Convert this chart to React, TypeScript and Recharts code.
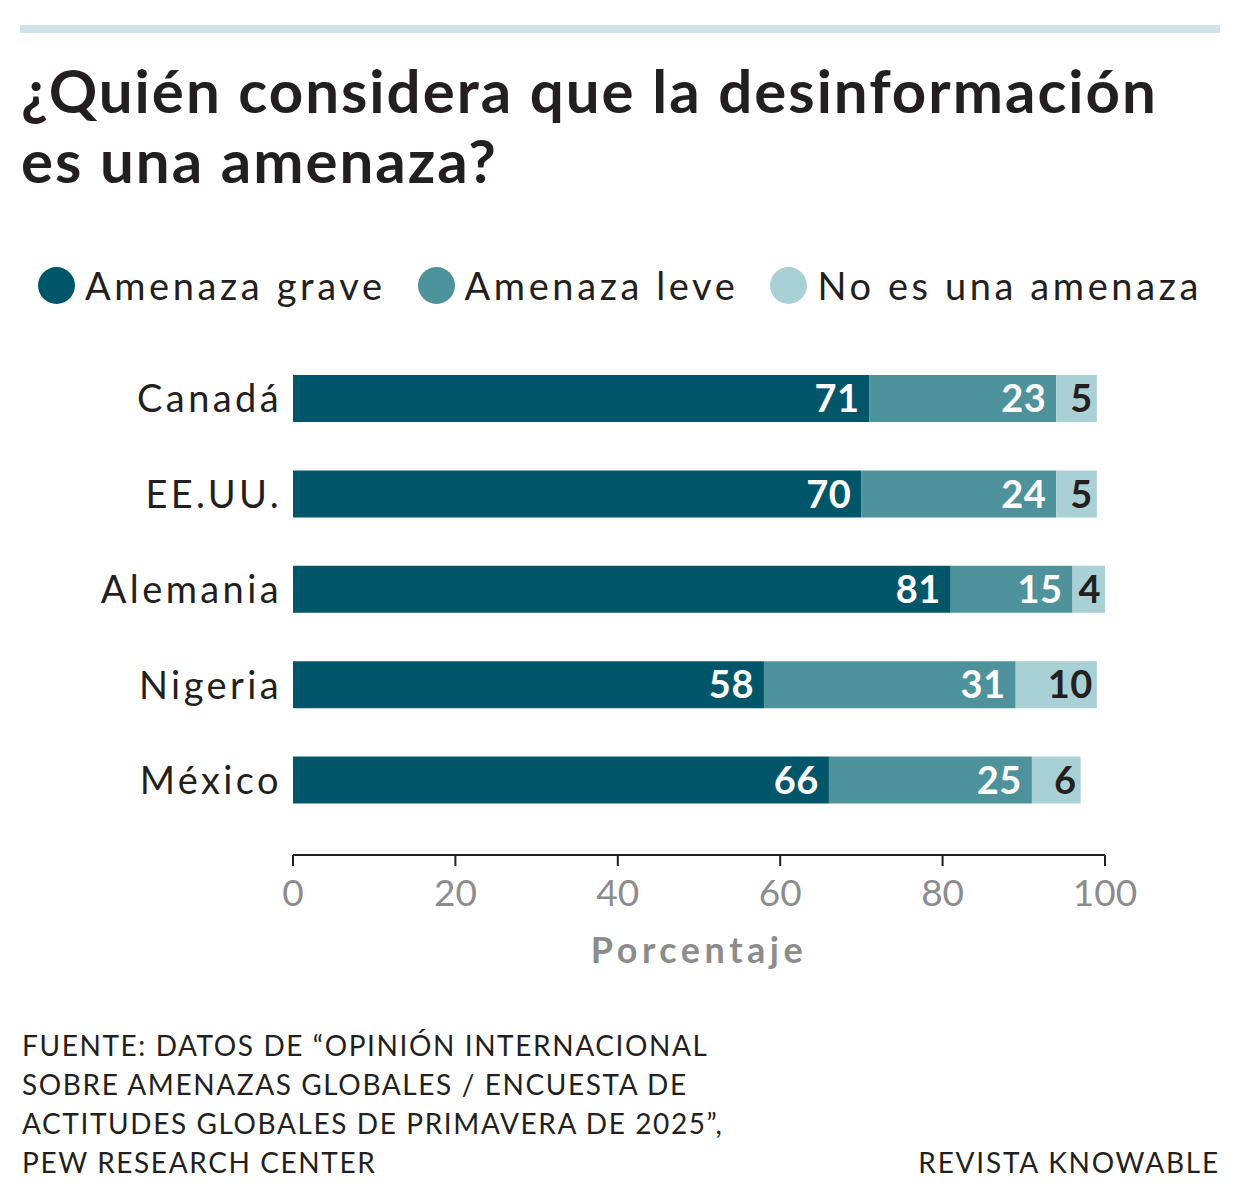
import React from 'react';
import { BarChart, Bar, XAxis, YAxis, LabelList } from 'recharts';

// Survey results: share of respondents per country (percent)
const countries = ['Canadá', 'EE.UU.', 'Alemania', 'Nigeria', 'México'];
const graveValues = [71, 70, 81, 58, 66];
const leveValues = [23, 24, 15, 31, 25];
const noValues = [5, 5, 4, 10, 6];
const xTicks = [0, 20, 40, 60, 80, 100];

const seriesNames = ['Amenaza grave', 'Amenaza leve', 'No es una amenaza'];
const seriesColors = ['#02566a', '#4e929c', '#a9d1d5'];

const data = countries.map((name, i) => ({
  name,
  grave: graveValues[i],
  leve: leveValues[i],
  no: noValues[i],
}));

const FONT = 'Lato, "Open Sans", sans-serif';
const INK = '#231f20';
const GREY = '#8c8c8c';

// Value label drawn right-aligned inside the end of each segment
const makeLabel = (color: string, inset: number) => (props: any) => {
  const { x, y, width, height, value } = props;
  return (
    <text
      x={Number(x) + Number(width) - inset}
      y={Number(y) + Number(height) / 2}
      dy="0.36em"
      textAnchor="end"
      fill={color}
      fontFamily={FONT}
      fontWeight={700}
      fontSize={38}
      letterSpacing={0.5}
    >
      {value}
    </text>
  );
};

// Country name right-aligned to the left of the plot
const CountryTick = (props: any) => {
  const { x, y, payload } = props;
  return (
    <text
      x={Number(x) + 3}
      y={y}
      dy="0.36em"
      textAnchor="end"
      fill={INK}
      fontFamily={FONT}
      fontSize={38}
      letterSpacing={3.4}
    >
      {payload.value}
    </text>
  );
};

export default function App() {
  return (
    <div
      style={{
        position: 'absolute',
        left: 0,
        top: 0,
        width: 1240,
        height: 1194,
        background: '#ffffff',
        fontFamily: FONT,
        color: INK,
        overflow: 'hidden',
      }}
    >
      <div style={{ position: 'absolute', left: 20, top: 25, width: 1200, height: 8, background: '#cfe4e6' }} />
      <div
        style={{
          position: 'absolute',
          left: 21,
          top: 55,
          fontSize: 60,
          fontWeight: 700,
          lineHeight: '70px',
          letterSpacing: 2.0,
          whiteSpace: 'nowrap',
        }}
      >
        ¿Quién considera que la desinformación
        <br />
        es una amenaza?
      </div>

      {/* Legend */}
      <div style={{ position: 'absolute', left: 38, top: 260, height: 50, display: 'flex', alignItems: 'center' }}>
        {seriesNames.map((s, i) => (
          <div key={s} style={{ display: 'flex', alignItems: 'center', marginRight: i < 2 ? 32 : 0 }}>
            <div style={{ width: 37, height: 37, borderRadius: '50%', background: seriesColors[i], marginRight: 10 }} />
            <span style={{ fontSize: 38, lineHeight: '50px', letterSpacing: 3.6, whiteSpace: 'nowrap' }}>{s}</span>
          </div>
        ))}
      </div>

      <div style={{ position: 'absolute', left: 0, top: 0 }}>
        <BarChart
          width={1240}
          height={1194}
          data={data}
          layout="vertical"
          margin={{ top: 351, right: 135, bottom: 229, left: 143 }}
        >
          <XAxis
            type="number"
            domain={[0, 100]}
            ticks={xTicks}
            height={110}
            axisLine={{ stroke: INK, strokeWidth: 2 }}
            tickLine={{ stroke: INK, strokeWidth: 2 }}
            tickSize={11}
            tickMargin={14}
            tick={{ fill: GREY, fontSize: 37, fontFamily: FONT }}
            interval={0}
            label={{
              value: 'Porcentaje',
              position: 'insideBottom',
              offset: 2,
              fill: GREY,
              fontSize: 36,
              fontWeight: 700,
              fontFamily: FONT,
              letterSpacing: 4.5,
            }}
          />
          <YAxis
            type="category"
            dataKey="name"
            width={150}
            axisLine={false}
            tickLine={false}
            tickSize={0}
            tickMargin={14}
            padding={{ top: 0, bottom: 27 }}
            tick={<CountryTick />}
            interval={0}
          />
          <Bar dataKey="grave" stackId="a" fill={seriesColors[0]} barSize={47} isAnimationActive={false}>
            <LabelList dataKey="grave" content={makeLabel('#ffffff', 10)} />
          </Bar>
          <Bar dataKey="leve" stackId="a" fill={seriesColors[1]} barSize={47} isAnimationActive={false}>
            <LabelList dataKey="leve" content={makeLabel('#ffffff', 10)} />
          </Bar>
          <Bar dataKey="no" stackId="a" fill={seriesColors[2]} barSize={47} isAnimationActive={false}>
            <LabelList dataKey="no" content={makeLabel(INK, 4)} />
          </Bar>
        </BarChart>
      </div>

      {/* Footer */}
      <div
        style={{
          position: 'absolute',
          left: 22,
          top: 1026,
          fontSize: 28,
          lineHeight: '39px',
          letterSpacing: 1.6,
          whiteSpace: 'nowrap',
        }}
      >
        FUENTE: DATOS DE “OPINIÓN INTERNACIONAL
        <br />
        SOBRE AMENAZAS GLOBALES / ENCUESTA DE
        <br />
        ACTITUDES GLOBALES DE PRIMAVERA DE 2025”,
        <br />
        PEW RESEARCH CENTER
      </div>
      <div style={{ position: 'absolute', right: 20, top: 1143, fontSize: 28, lineHeight: '39px', letterSpacing: 1.8 }}>
        REVISTA KNOWABLE
      </div>
    </div>
  );
}
